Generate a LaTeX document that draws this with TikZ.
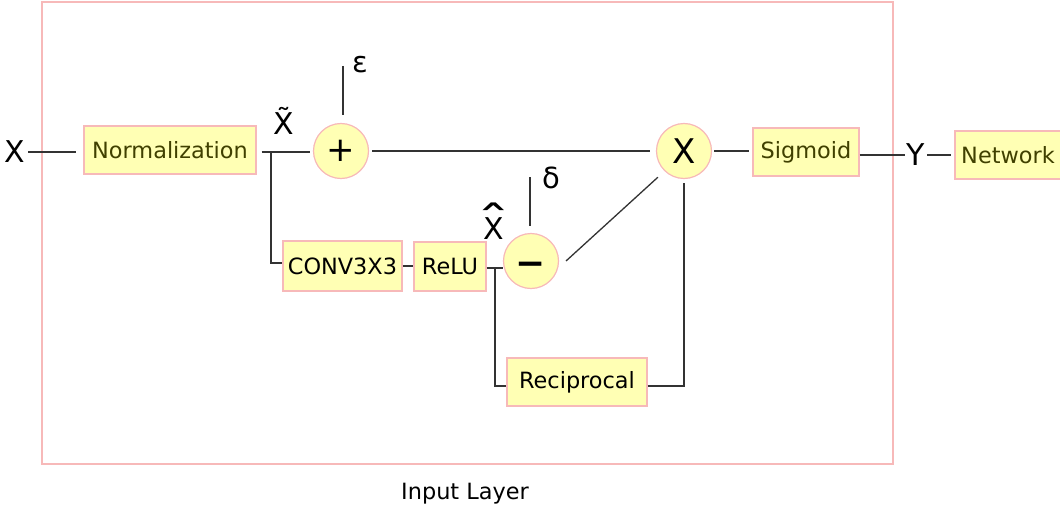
\documentclass[tikz,border=0pt]{standalone}
\usepackage{fontspec}
\setmainfont{DejaVu Sans}
\definecolor{boxfill}{HTML}{FFFFB4}
\definecolor{boxborder}{HTML}{F7B9B9}
\definecolor{olive}{HTML}{404000}
\definecolor{linecol}{HTML}{333333}
\begin{document}
\begin{tikzpicture}[x=1pt,y=-1pt,
  box/.style={draw=boxborder, fill=boxfill, line width=1.2pt, inner sep=0pt, font=\fontsize{22.4}{26}\selectfont},
  circ/.style={circle, draw=boxborder, fill=boxfill, line width=1.2pt, minimum size=55pt, inner sep=0pt},
  conn/.style={line width=1.3pt, draw=linecol},
  biglab/.style={inner sep=0pt, font=\fontsize{30}{34}\selectfont},
  greek/.style={inner sep=0pt, font=\fontsize{29}{33}\selectfont}]
\useasboundingbox (0,0) rectangle (1060,508);
% frame
\node[draw=boxborder, line width=1.2pt, minimum width=851pt, minimum height=462pt, inner sep=0pt] (frame) at (467.5,233) {};
\node[inner sep=0pt, font=\fontsize{22.4}{26}\selectfont] (inlayer) at (465,494) {Input Layer};
% boxes
\node[box, text=olive, minimum width=172pt, minimum height=48pt] (norm) at (170,150) {Normalization};
\node[box, text=olive, minimum width=106pt, minimum height=48pt] (sig) at (806,152) {Sigmoid};
\node[box, text=olive, minimum width=106pt, minimum height=48pt] (net) at (1008,155) {Network};
\node[box, minimum width=119pt, minimum height=50pt] (conv) at (342.5,266) {CONV3X3};
\node[box, minimum width=72pt, minimum height=49pt] (relu) at (450,266.5) {ReLU};
\node[box, minimum width=140pt, minimum height=48pt] (recip) at (577,382) {Reciprocal};
% circles
\node[circ, font=\fontsize{34}{38}\selectfont] (plus) at (341,151) {+};
\node[circ, font=\fontsize{34}{38}\selectfont] (times) at (684,151) {X};
\node[circ, font=\fontsize{36}{40}\bfseries\selectfont] (minus) at (531,261) {\raisebox{-14pt}[0pt][0pt]{−}};
% labels
\node[biglab] (xin) at (15,152) {X};
\node[biglab] (yout) at (916,155) {Y};
\node[biglab] (xt) at (284,121) {X^^^^0303};
\node[biglab] (xh) at (494,229) {\ooalign{X\cr\hidewidth\raisebox{3pt}{\scalebox{2.3}[1.4]{ˆ}}\hidewidth\cr}};
\node[greek] (eps) at (360,65) {ε};
\node[greek] (del) at (551,178) {δ};
\coordinate (epstop) at (343,66);
\coordinate (deltop) at (530,177);
\coordinate (br1) at (271,152);
\coordinate (br2) at (495,268);
\coordinate (dstart) at (566,261);
% connectors
\draw[conn, shorten <=3pt, shorten >=7pt] (xin.east) -- (xin.east -| norm.west);
\draw[conn, shorten <=5pt, shorten >=3pt] (norm.east |- br1) -- (br1 -| plus.west);
\draw[conn] (br1) |- ([yshift=3pt]conv.west);
\draw[conn, shorten >=8pt] (epstop) -- (epstop |- plus.north);
\draw[conn, shorten <=3pt, shorten >=6pt] (plus.east) -- (plus.east -| times.west);
\draw[conn, shorten <=2pt, shorten >=3pt] (times.east) -- (times.east -| sig.west);
\draw[conn, shorten >=2pt] (sig.east |- yout) -- (yout.west);
\draw[conn, shorten <=2pt, shorten >=3pt] (yout.east) -- (yout.east -| net.west);
\draw[conn] (conv.east) -- (conv.east -| relu.west);
\draw[conn] (relu.east |- br2) -- (br2 -| minus.west);
\draw[conn] (br2) |- ([yshift=-4pt]recip.west);
\draw[conn, shorten >=7pt] (deltop) -- (deltop |- minus.north);
\draw[conn, shorten >=9pt] (dstart) -- (times.226);
\draw[conn, shorten >=4pt] ([yshift=-4pt]recip.east) -| (times.south);
\end{tikzpicture}
\end{document}
